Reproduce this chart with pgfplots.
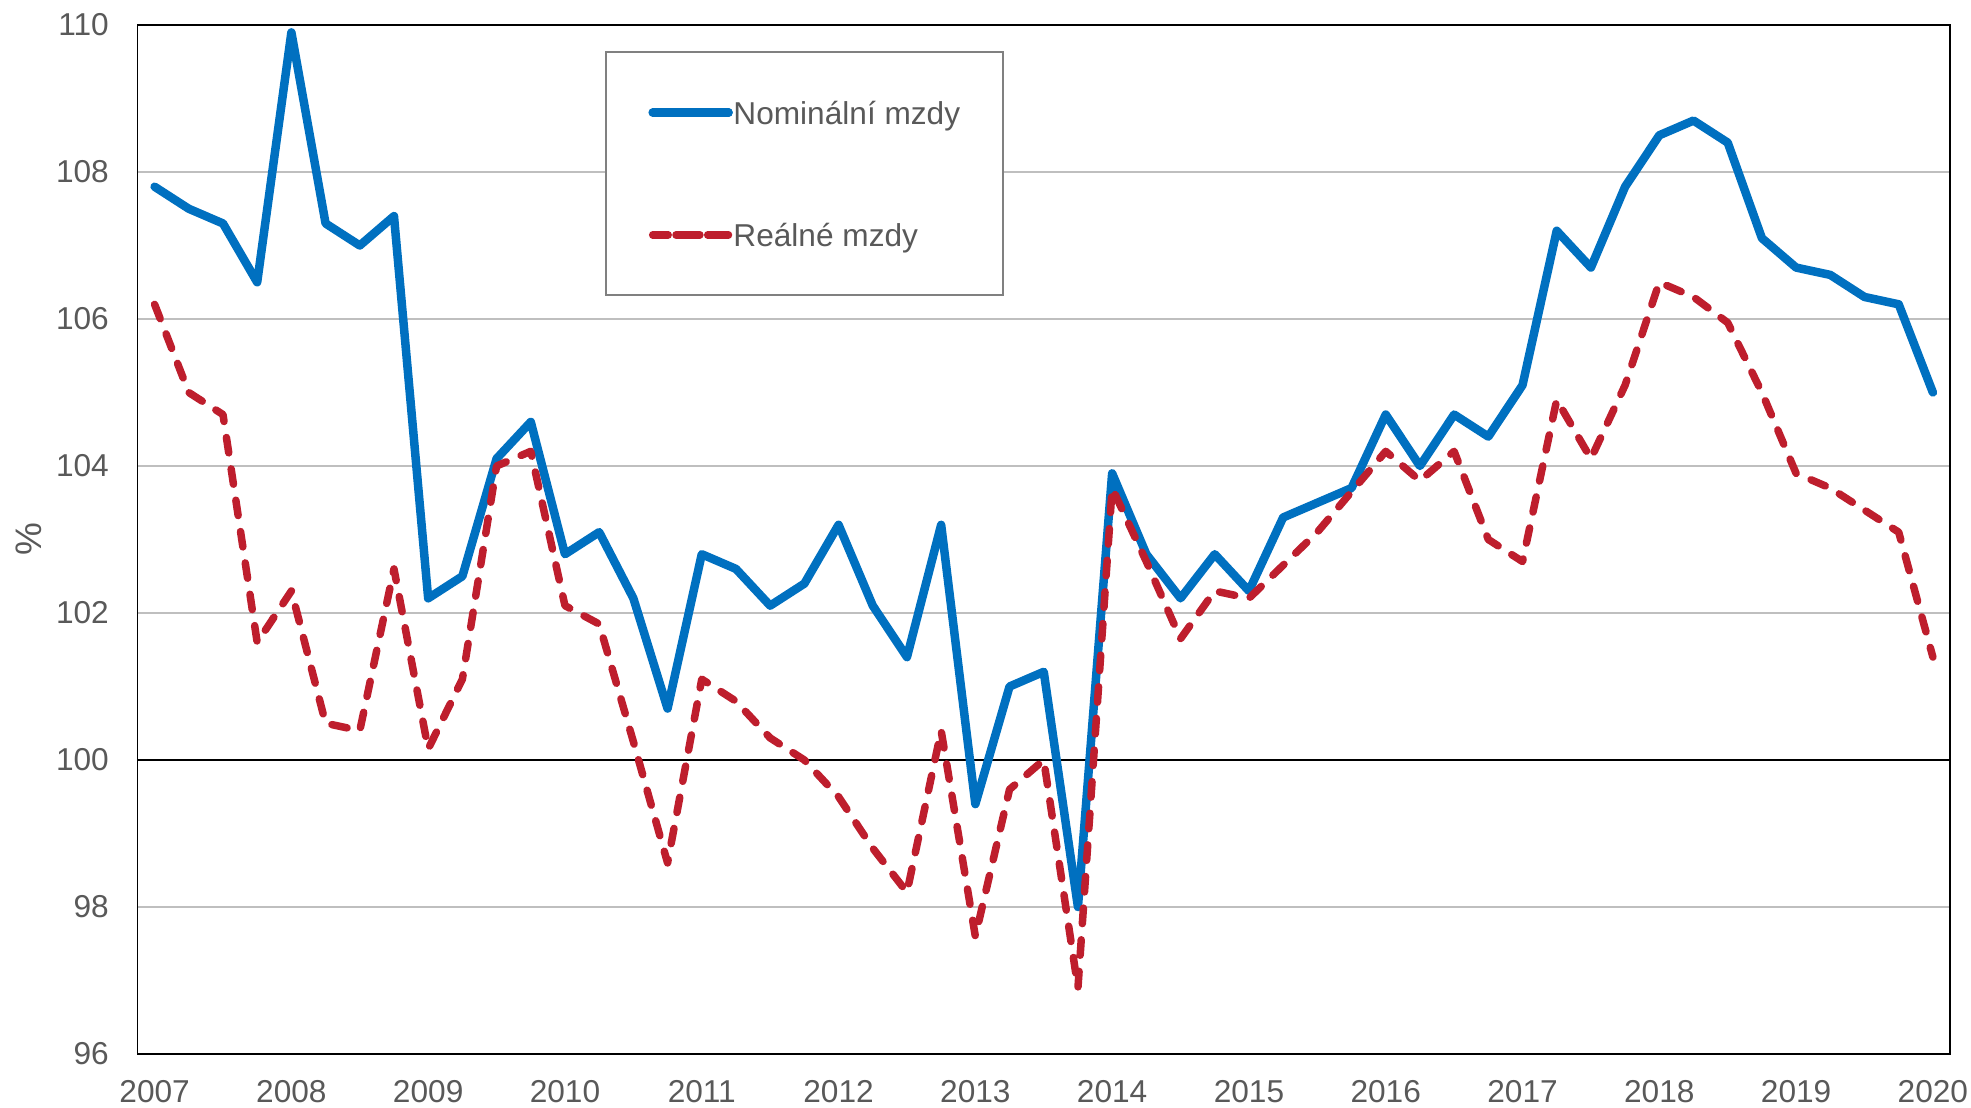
\documentclass[border=0pt]{standalone}
\usepackage{fontspec}
\setmainfont{Liberation Sans}
\usepackage{pgfplots}
\usepackage{pgfplotstable}
\pgfplotsset{compat=1.18}
\definecolor{nomblue}{HTML}{0070C0}
\definecolor{realred}{HTML}{BE1E2D}
\definecolor{txtgrey}{HTML}{595959}
\definecolor{gridgrey}{HTML}{BFBFBF}
\definecolor{legendgrey}{HTML}{808080}

% quarters 2007Q1 = 0 ... 2020Q1 = 52
\pgfplotstableread{
q nom real
0 107.8 106.2
1 107.5 105.0
2 107.3 104.7
3 106.5 101.6
4 109.9 102.3
5 107.3 100.5
6 107.0 100.4
7 107.4 102.6
8 102.2 100.15
9 102.5 101.1
10 104.1 104.0
11 104.6 104.2
12 102.8 102.1
13 103.1 101.85
14 102.2 100.25
15 100.7 98.6
16 102.8 101.1
17 102.6 100.8
18 102.1 100.3
19 102.4 100.0
20 103.2 99.5
21 102.1 98.8
22 101.4 98.2
23 103.2 100.4
24 99.4 97.6
25 101.0 99.6
26 101.2 100.0
27 98.0 96.9
28 103.9 103.7
29 102.8 102.7
30 102.2 101.65
31 102.8 102.3
32 102.3 102.2
33 103.3 102.65
34 103.5 103.1
35 103.7 103.65
36 104.7 104.2
37 104.0 103.8
38 104.7 104.2
39 104.4 103.0
40 105.1 102.7
41 107.2 104.9
42 106.7 104.1
43 107.8 105.1
44 108.5 106.5
45 108.7 106.3
46 108.4 105.95
47 107.1 105.0
48 106.7 103.9
49 106.6 103.7
50 106.3 103.4
51 106.2 103.1
52 105.0 101.4
}\mzdy

\begin{document}
\begin{tikzpicture}
\useasboundingbox (0,0) rectangle (197.1mm,110.7mm);
\begin{axis}[
  at={(13.75mm,5.3mm)},anchor=south west,
  scale only axis,width=181.25mm,height=102.9mm,
  xmin=-0.5,xmax=52.5,ymin=96,ymax=110,
  xtick={0,4,...,52},
  xticklabels={2007,2008,2009,2010,2011,2012,2013,2014,2015,2016,2017,2018,2019,2020},
  ytick={96,98,102,104,106,108,110},
  extra y ticks={100},
  extra y tick style={grid style={black,line width=0.17mm}},
  ymajorgrids,grid style={gridgrey,line width=0.14mm},
  major tick length=0pt,
  axis line style={black,line width=0.13mm},
  /pgf/number format/assume math mode=true,
  tick label style={font=\fontsize{9}{10.5}\selectfont,text=txtgrey},
  yticklabel style={anchor=east,inner sep=0pt,xshift=-2.8mm},
  xticklabel style={anchor=north,inner sep=0pt,yshift=-2.6mm},
  ylabel={\%},
  ylabel style={at={(axis description cs:-0.0599,0.5)},anchor=center,inner sep=0pt,
    font=\fontsize{10.5}{12}\selectfont,text=txtgrey},
  legend cell align=left,
  legend image code/.code={\path (-1.33mm,0mm) -- (6.25mm,0mm);
    \draw[#1] (1.0mm,0mm) -- (6.25mm,0mm);},
  legend style={at={(axis description cs:0.2579,0.9747)},anchor=north west,
    draw=legendgrey,line width=0.2mm,fill=white,
    inner xsep=4.25mm,inner ysep=4.9mm,row sep=9.93mm,column sep=0.07mm,
    font=\fontsize{9}{10.8}\selectfont,text=txtgrey,
    nodes={inner sep=0pt,text height=2.3mm,text depth=0pt}},
]
\addplot[nomblue,line width=0.85mm,line cap=round,line join=round]
  table[x=q,y=nom]{\mzdy};
\addlegendentry{Nominální mzdy}
\addplot[realred,line width=0.75mm,line cap=round,line join=round,
  dash pattern=on 1.55mm off 1.62mm]
  table[x=q,y=real]{\mzdy};
\addlegendentry{Reálné mzdy}
\end{axis}
\end{tikzpicture}
\end{document}
